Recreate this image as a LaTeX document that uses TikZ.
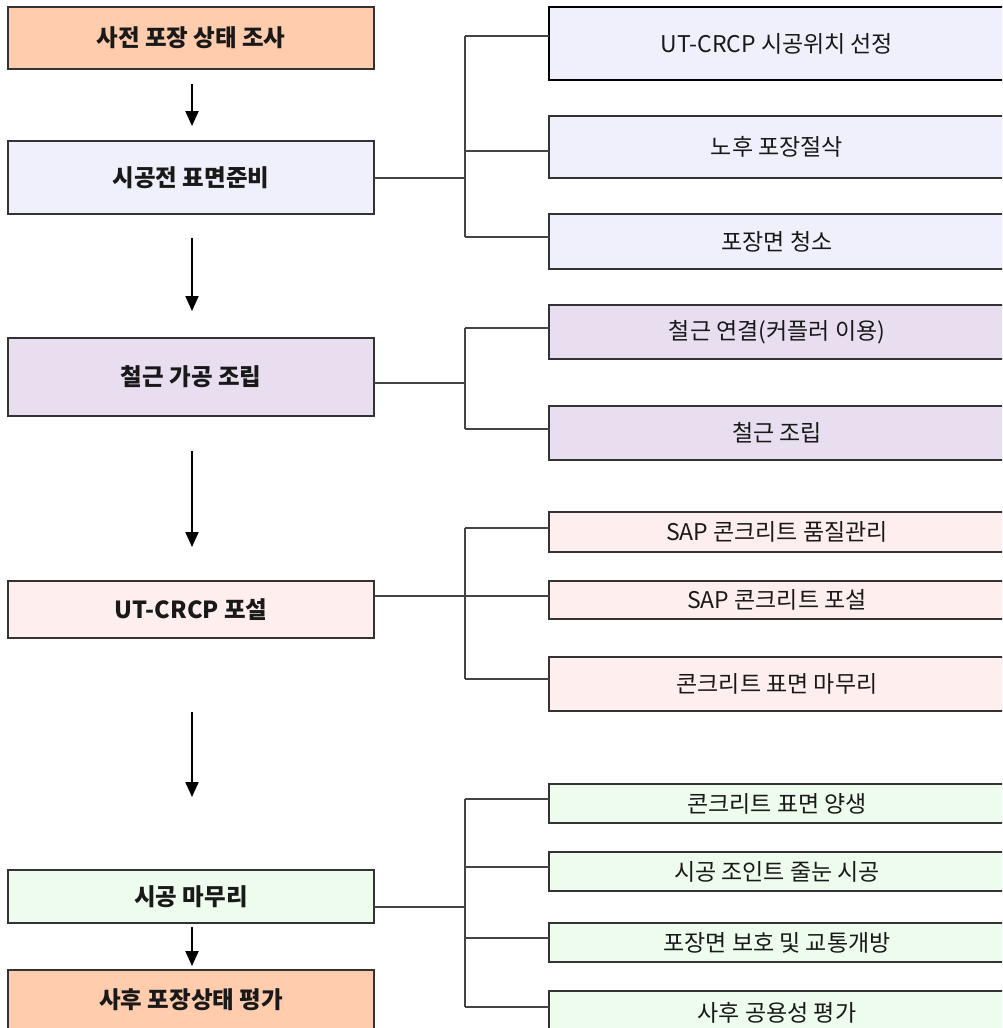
\documentclass[tikz,border=0pt]{standalone}
\usepackage{fontspec}
\setmainfont{Noto Sans CJK KR}
\usetikzlibrary{arrows.meta}
\definecolor{cpeach}{HTML}{FFCCAE}
\definecolor{clav}{HTML}{F0F0FC}
\definecolor{cpurp}{HTML}{E8DEF0}
\definecolor{cpink}{HTML}{FFEEEE}
\definecolor{cgreen}{HTML}{EDFCEC}
\definecolor{cedge}{HTML}{333333}
\definecolor{cline}{HTML}{444444}
\tikzset{
  box/.style={draw=cedge, line width=1.3pt, rectangle, inner sep=0pt, outer sep=0pt, anchor=north west, text=black!90},
  lbox/.style={box, minimum width=366pt, font=\fontsize{23.5}{28}\selectfont\bfseries},
  rbox/.style={box, minimum width=456pt, font=\fontsize{23}{27}\selectfont},
  conn/.style={draw=cline, line width=1.3pt},
  flow/.style={draw=black, line width=2pt, -{Triangle[width=13pt,length=15pt]}}
}
\begin{document}
\begin{tikzpicture}[x=1pt,y=-1pt]
\useasboundingbox (0,0) rectangle (1002,1028);
\clip (0,0) rectangle (1002,1028);
% left column
\node[lbox, fill=cpeach, minimum height=62pt] (L1) at (8,7) {사전 포장 상태 조사};
\node[lbox, fill=clav, minimum height=73pt] (L2) at (8,141) {시공전 표면준비};
\node[lbox, fill=cpurp, minimum height=78pt] (L3) at (8,338) {철근 가공 조립};
\node[lbox, fill=cpink, minimum height=57pt] (L4) at (8,581) {UT-CRCP 포설};
\node[lbox, fill=cgreen, minimum height=53pt] (L5) at (8,870) {시공 마무리};
\node[lbox, fill=cpeach, minimum height=60pt] (L6) at (8,970) {사후 포장상태 평가};
% right column
\node[rbox, fill=clav, minimum height=73pt, line width=2.6pt, draw=black] (R1) at (549,7) {UT-CRCP 시공위치 선정};
\node[rbox, fill=clav, minimum height=62pt] (R2) at (549,116) {노후 포장절삭};
\node[rbox, fill=clav, minimum height=55pt] (R3) at (549,214) {포장면 청소};
\node[rbox, fill=cpurp, minimum height=54pt] (R4) at (549,305) {철근 연결(커플러 이용)};
\node[rbox, fill=cpurp, minimum height=54pt] (R5) at (549,406) {철근 조립};
\node[rbox, fill=cpink, minimum height=40pt] (R6) at (549,512) {SAP 콘크리트 품질관리};
\node[rbox, fill=cpink, minimum height=38pt] (R7) at (549,581) {SAP 콘크리트 포설};
\node[rbox, fill=cpink, minimum height=54pt] (R8) at (549,657) {콘크리트 표면 마무리};
\node[rbox, fill=cgreen, minimum height=39pt] (R9) at (549,784) {콘크리트 표면 양생};
\node[rbox, fill=cgreen, minimum height=39pt] (R10) at (549,852) {시공 조인트 줄눈 시공};
\node[rbox, fill=cgreen, minimum height=39pt] (R11) at (549,923) {포장면 보호 및 교통개방};
\node[rbox, fill=cgreen, minimum height=44pt] (R12) at (549,991) {사후 공용성 평가};
% flow arrows
\coordinate (a1s) at (192,84);  \coordinate (a1e) at (192,126);
\coordinate (a2s) at (192,238); \coordinate (a2e) at (192,311);
\coordinate (a3s) at (192,451); \coordinate (a3e) at (192,547);
\coordinate (a4s) at (192,712); \coordinate (a4e) at (192,797);
\coordinate (a5s) at (192,927); \coordinate (a5e) at (192,966);
\draw[flow] (a1s) -- (a1e);
\draw[flow] (a2s) -- (a2e);
\draw[flow] (a3s) -- (a3e);
\draw[flow] (a4s) -- (a4e);
\draw[flow] (a5s) -- (a5e);
% group 1
\coordinate (g1) at (465,178);
\coordinate (g1a) at (465,36); \coordinate (g1b) at (465,151); \coordinate (g1c) at (465,237);
\draw[conn] (L2.east |- g1) -- (g1);
\draw[conn] (g1a) -- (g1c);
\draw[conn] (g1a) -- (R1.west |- g1a);
\draw[conn] (g1b) -- (R2.west |- g1b);
\draw[conn] (g1c) -- (R3.west |- g1c);
% group 2
\coordinate (g2) at (465,383);
\coordinate (g2a) at (465,328); \coordinate (g2b) at (465,429);
\draw[conn] (L3.east |- g2) -- (g2);
\draw[conn] (g2a) -- (g2b);
\draw[conn] (g2a) -- (R4.west |- g2a);
\draw[conn] (g2b) -- (R5.west |- g2b);
% group 3
\coordinate (g3) at (465,596);
\coordinate (g3a) at (465,528); \coordinate (g3c) at (465,679);
\draw[conn] (L4.east |- g3) -- (g3);
\draw[conn] (g3a) -- (g3c);
\draw[conn] (g3a) -- (R6.west |- g3a);
\draw[conn] (g3) -- (R7.west |- g3);
\draw[conn] (g3c) -- (R8.west |- g3c);
% group 4
\coordinate (g4) at (465,907);
\coordinate (g4a) at (465,799); \coordinate (g4b) at (465,867);
\coordinate (g4c) at (465,938); \coordinate (g4d) at (465,1007);
\draw[conn] (L5.east |- g4) -- (g4);
\draw[conn] (g4a) -- (g4d);
\draw[conn] (g4a) -- (R9.west |- g4a);
\draw[conn] (g4b) -- (R10.west |- g4b);
\draw[conn] (g4c) -- (R11.west |- g4c);
\draw[conn] (g4d) -- (R12.west |- g4d);
\end{tikzpicture}
\end{document}
